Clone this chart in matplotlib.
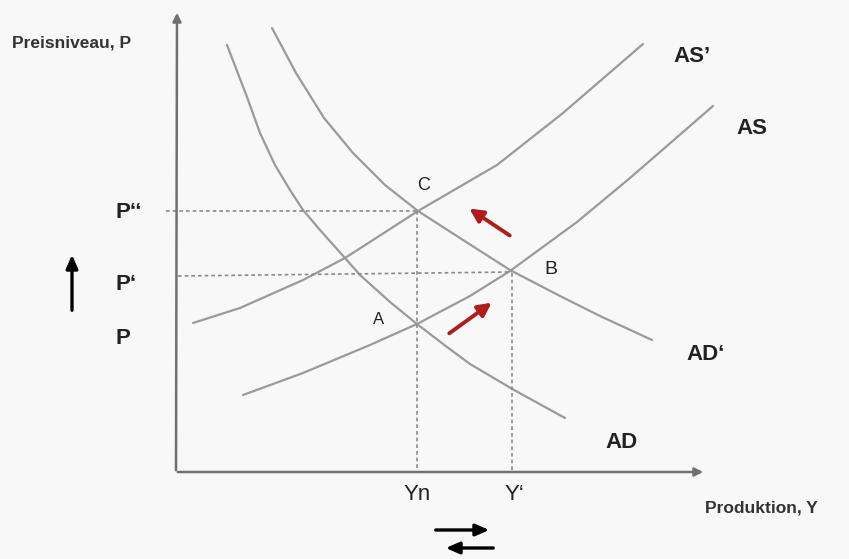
import matplotlib.pyplot as plt

plt.rcParams['font.family'] = ['Liberation Sans', 'DejaVu Sans']

# origin of the diagram sits at the corner of the two axes
ORIGIN = (176, 472)

# curves as (Y, P) pairs, read in screen units measured from the origin
ad_y = [227, 247, 260, 275, 290, 303, 320, 345, 360, 390, 417, 447, 470, 514, 565]
ad_p = [45, 97, 133, 165, 190, 210, 230, 258, 275, 302, 324, 347, 364, 390, 418]

ad2_y = [272, 296, 324, 353, 385, 418, 463, 510, 560, 600, 652]
ad2_p = [28, 73, 118, 153, 185, 211, 240, 270, 296, 316, 340]

as_y = [243, 303, 370, 417, 470, 510, 577, 630, 713]
as_p = [395, 373, 345, 324, 296, 271, 222, 178, 106]

as2_y = [193, 240, 303, 345, 418, 497, 563, 643]
as2_p = [323, 308, 280, 258, 211, 165, 113, 44]

# equilibrium levels
Yn, Y1 = 417, 512
P0, P1, P2 = 324, 273, 211


def to_xy(ys, ps):
    return [y - ORIGIN[0] for y in ys], [ORIGIN[1] - p for p in ps]


def pt(x, y):
    return x - ORIGIN[0], ORIGIN[1] - y


fig = plt.figure(figsize=(8.49, 5.59), dpi=100)
fig.patch.set_facecolor('#f8f8f8')
ax = fig.add_axes([0, 0, 1, 1])
ax.set_facecolor('#f8f8f8')
ax.set_xlim(-ORIGIN[0], 849 - ORIGIN[0])
ax.set_ylim(ORIGIN[1] - 559, ORIGIN[1])
ax.axis('off')

curve_kw = dict(color='#9a9a9a', lw=1.6, solid_capstyle='round', solid_joinstyle='round')
for ys, ps in [(ad_y, ad_p), (ad2_y, ad2_p), (as_y, as_p), (as2_y, as2_p)]:
    ax.plot(*to_xy(ys, ps), **curve_kw)

# guide lines to the axes
dash_kw = dict(color='#8a8a8a', lw=1.2, linestyle=(0, (2.2, 1.8)))
ax.plot(*to_xy([166, Yn], [P2, P2]), **dash_kw)
ax.plot(*to_xy([178, Y1], [P1 + 3, P1 - 1]), **dash_kw)
ax.plot(*to_xy([Yn, Yn], [P2, ORIGIN[1]]), **dash_kw)
ax.plot(*to_xy([Y1, Y1], [P1, ORIGIN[1]]), **dash_kw)

# axes with arrow heads
axis_kw = dict(arrowstyle='-|>,head_length=0.5,head_width=0.25', color='#707070', lw=1.8)
ax.annotate('', xy=pt(177, 10), xytext=pt(176, ORIGIN[1] + 1), arrowprops=axis_kw)
ax.annotate('', xy=pt(706, ORIGIN[1]), xytext=pt(175, ORIGIN[1]), arrowprops=axis_kw)

# red shift arrows
red_kw = dict(arrowstyle='-|>,head_length=0.8,head_width=0.4', color='#b01c1c', lw=2.8)
ax.annotate('', xy=pt(494, 301), xytext=pt(447, 335), arrowprops=red_kw)
ax.annotate('', xy=pt(467, 207), xytext=pt(512, 237), arrowprops=red_kw)

# black direction arrows
blk_kw = dict(arrowstyle='-|>,head_length=0.8,head_width=0.35', color='black', lw=2.4)
ax.annotate('', xy=pt(72, 252), xytext=pt(72, 313), arrowprops=blk_kw)
ax.annotate('', xy=pt(492, 530), xytext=pt(433, 530), arrowprops=blk_kw)
ax.annotate('', xy=pt(443, 548), xytext=pt(496, 548), arrowprops=blk_kw)

txt = '#222222'
ax.text(*pt(12, 43), 'Preisniveau, P', fontsize=12.5, fontweight='bold', color='#333333', va='center', ha='left')
ax.text(*pt(705, 508), 'Produktion, Y', fontsize=12.5, fontweight='bold', color='#333333', va='center', ha='left')

big = dict(fontsize=16, fontweight='bold', color=txt, va='center')
ax.text(*pt(116, 212), 'P‘‘', ha='left', **big)
ax.text(*pt(116, 284), 'P‘', ha='left', **big)
ax.text(*pt(116, 339), 'P', ha='left', **big)
ax.text(*pt(692, 57), 'AS’', ha='center', **big)
ax.text(*pt(752, 128), 'AS', ha='center', **big)
ax.text(*pt(706, 355), 'AD‘', ha='center', **big)
ax.text(*pt(622, 443), 'AD', ha='center', **big)

ax.text(*pt(417, 494), 'Yn', fontsize=16, color=txt, va='center', ha='center')
ax.text(*pt(514, 494), 'Y‘', fontsize=16, color=txt, va='center', ha='center')

ax.text(*pt(424, 186), 'C', fontsize=13, color=txt, va='center', ha='center')
ax.text(*pt(379, 319), 'A', fontsize=12, color=txt, va='center', ha='center')
ax.text(*pt(551, 270), 'B', fontsize=14, color=txt, va='center', ha='center')

fig.savefig('out.png', dpi=100, facecolor=fig.get_facecolor())
